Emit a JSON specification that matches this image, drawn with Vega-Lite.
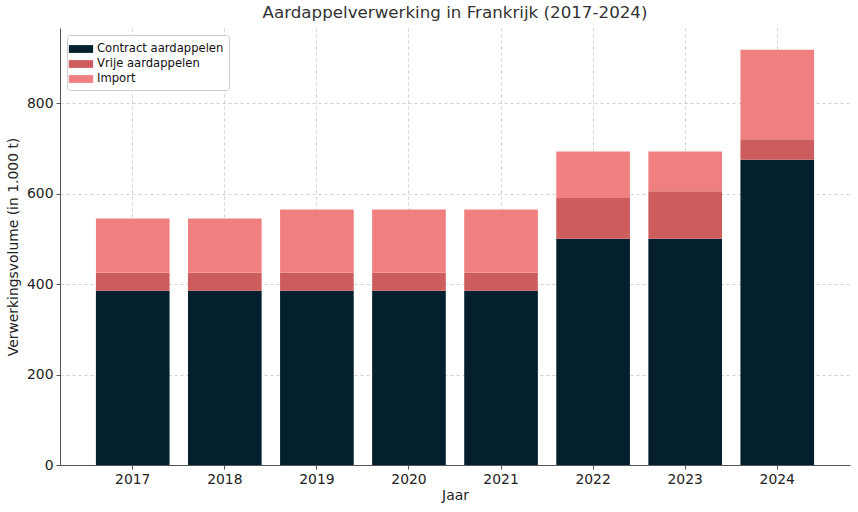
{
  "$schema": "https://vega.github.io/schema/vega-lite/v6.json",
  "width": 790,
  "height": 437,
  "autosize": {"type": "none"},
  "padding": {"left": 60, "top": 28, "right": 8, "bottom": 47},
  "title": {"text": "Aardappelverwerking in Frankrijk (2017-2024)", "fontSize": 16.7, "font": "DejaVu Sans", "fontWeight": "normal", "color": "#333333", "offset": 6},
  "config": {
    "font": "DejaVu Sans",
    "view": {"stroke": null},
    "axis": {"labelFont": "DejaVu Sans", "titleFont": "DejaVu Sans", "labelFontSize": 13.9, "titleFontSize": 13.9, "titleFontWeight": "normal", "labelColor": "#222222", "titleColor": "#222222", "domainColor": "#555555", "tickColor": "#555555", "gridColor": "#bbbbbb", "gridDash": [3, 3], "gridWidth": 0.7, "zindex": 1}
  },
  "data": {"values": [
    {"Jaar": "2017", "Soort": "Contract aardappelen", "o": 1, "v": 385},
    {"Jaar": "2017", "Soort": "Vrije aardappelen", "o": 2, "v": 40},
    {"Jaar": "2017", "Soort": "Import", "o": 3, "v": 120},
    {"Jaar": "2018", "Soort": "Contract aardappelen", "o": 1, "v": 385},
    {"Jaar": "2018", "Soort": "Vrije aardappelen", "o": 2, "v": 40},
    {"Jaar": "2018", "Soort": "Import", "o": 3, "v": 120},
    {"Jaar": "2019", "Soort": "Contract aardappelen", "o": 1, "v": 385},
    {"Jaar": "2019", "Soort": "Vrije aardappelen", "o": 2, "v": 40},
    {"Jaar": "2019", "Soort": "Import", "o": 3, "v": 140},
    {"Jaar": "2020", "Soort": "Contract aardappelen", "o": 1, "v": 385},
    {"Jaar": "2020", "Soort": "Vrije aardappelen", "o": 2, "v": 40},
    {"Jaar": "2020", "Soort": "Import", "o": 3, "v": 140},
    {"Jaar": "2021", "Soort": "Contract aardappelen", "o": 1, "v": 385},
    {"Jaar": "2021", "Soort": "Vrije aardappelen", "o": 2, "v": 40},
    {"Jaar": "2021", "Soort": "Import", "o": 3, "v": 140},
    {"Jaar": "2022", "Soort": "Contract aardappelen", "o": 1, "v": 500},
    {"Jaar": "2022", "Soort": "Vrije aardappelen", "o": 2, "v": 90},
    {"Jaar": "2022", "Soort": "Import", "o": 3, "v": 103},
    {"Jaar": "2023", "Soort": "Contract aardappelen", "o": 1, "v": 500},
    {"Jaar": "2023", "Soort": "Vrije aardappelen", "o": 2, "v": 105},
    {"Jaar": "2023", "Soort": "Import", "o": 3, "v": 88},
    {"Jaar": "2024", "Soort": "Contract aardappelen", "o": 1, "v": 675},
    {"Jaar": "2024", "Soort": "Vrije aardappelen", "o": 2, "v": 45},
    {"Jaar": "2024", "Soort": "Import", "o": 3, "v": 198}
  ]},
  "mark": {"type": "bar"},
  "encoding": {
    "x": {"field": "Jaar", "type": "ordinal", "title": "Jaar",
      "scale": {"paddingInner": 0.2, "paddingOuter": 0.39},
      "axis": {"labelAngle": 0, "grid": true, "tickSize": 4, "labelPadding": 3, "titlePadding": 3}},
    "y": {"field": "v", "type": "quantitative", "stack": "zero", "title": "Verwerkingsvolume (in 1.000 t)",
      "scale": {"domain": [0, 966], "nice": false},
      "axis": {"values": [0, 200, 400, 600, 800], "grid": true, "tickSize": 4, "labelPadding": 3, "titlePadding": 6}},
    "color": {"field": "Soort", "type": "nominal",
      "scale": {"domain": ["Contract aardappelen", "Vrije aardappelen", "Import"], "range": ["#04202f", "#cd5c5c", "#f08080"]},
      "legend": {"title": null, "orient": "top-left", "offset": 7, "fillColor": "#ffffff", "strokeColor": "#cccccc", "padding": 5, "cornerRadius": 3,
        "symbolType": "M-1.4,-0.45H1.4V0.45H-1.4Z", "symbolSize": 300, "symbolStrokeWidth": 0, "symbolOpacity": 1,
        "labelFontSize": 11.6, "labelFont": "DejaVu Sans", "labelColor": "#111111", "rowPadding": 0, "labelOffset": 7}},
    "order": {"field": "o", "type": "quantitative"}
  }
}
